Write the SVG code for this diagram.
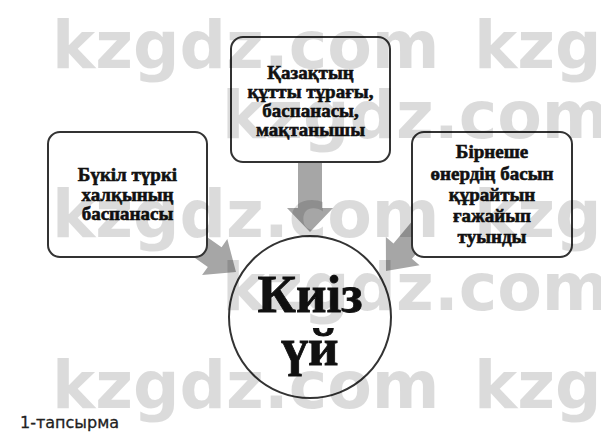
<svg xmlns="http://www.w3.org/2000/svg" width="601" height="438" viewBox="0 0 601 438">
<style>
.box{fill:#fff;stroke:#333;stroke-width:2}
.t{font-family:"Liberation Serif","Times New Roman",serif;font-weight:bold;font-size:19px;fill:#111;stroke:#111;stroke-width:0.6;text-anchor:middle}
.big{font-family:"Liberation Serif","Times New Roman",serif;font-weight:bold;font-size:53px;fill:#111;stroke:#111;stroke-width:0.8;text-anchor:middle}
.arr{fill:#a6a6a6}
.wm{font-family:"DejaVu Sans",Verdana,sans-serif;font-weight:bold;font-size:65px;fill:#000;fill-opacity:0.14}
</style>
<defs>
<polygon id="blk" points="-50,-12 0,-12 0,-22 26,0 0,22 0,12 -50,12"/>
</defs>
<rect width="601" height="438" fill="#fff"/>
<g id="connectors" class="arr">
<polygon points="298,162 322,162 322,208 333,208 310,232 287,208 298,208"/>
<use href="#blk" transform="translate(214.7,257.1) rotate(35)"/>
<use href="#blk" transform="translate(402.7,251.1) rotate(130)"/>
</g>
<g id="node-top">
<rect class="box" x="231" y="37" width="159" height="125" rx="12"/>
<text class="t"><tspan x="310.5" y="79">Қазақтың</tspan><tspan x="310.5" y="98">құтты тұрағы,</tspan><tspan x="310.5" y="117">баспанасы,</tspan><tspan x="310.5" y="136">мақтанышы</tspan></text>
</g>
<g id="node-left">
<rect class="box" x="48" y="132" width="159" height="125" rx="12"/>
<text class="t"><tspan x="127.5" y="181">Бүкіл түркі</tspan><tspan x="127.5" y="201">халқының</tspan><tspan x="127.5" y="220">баспанасы</tspan></text>
</g>
<g id="node-right">
<rect class="box" x="412" y="132" width="160" height="125" rx="12"/>
<text class="t"><tspan x="492" y="158">Бірнеше</tspan><tspan x="492" y="180">өнердің басын</tspan><tspan x="492" y="201">құрайтын</tspan><tspan x="492" y="222">ғажайып</tspan><tspan x="492" y="243">туынды</tspan></text>
</g>
<g id="node-center">
<circle class="box" cx="310" cy="317" r="81"/>
<text class="big"><tspan x="310" y="312">Киіз</tspan><tspan x="310" y="365">үй</tspan></text>
</g>
<text x="20" y="428" font-family="'DejaVu Sans',Verdana,sans-serif" font-size="16" fill="#222" stroke="#222" stroke-width="0.3">1-тапсырма</text>
<g id="watermark" class="wm">
<text x="52" y="68">kzgdz.com</text>
<text x="474" y="68">kzg</text>
<text x="222" y="138">kzgdz.com</text>
<text x="52" y="237">kzgdz.com</text>
<text x="474" y="237">kzg</text>
<text x="222" y="310">kzgdz.com</text>
<text x="52" y="408">kzgdz.com</text>
<text x="474" y="408">kzg</text>
</g>
</svg>
